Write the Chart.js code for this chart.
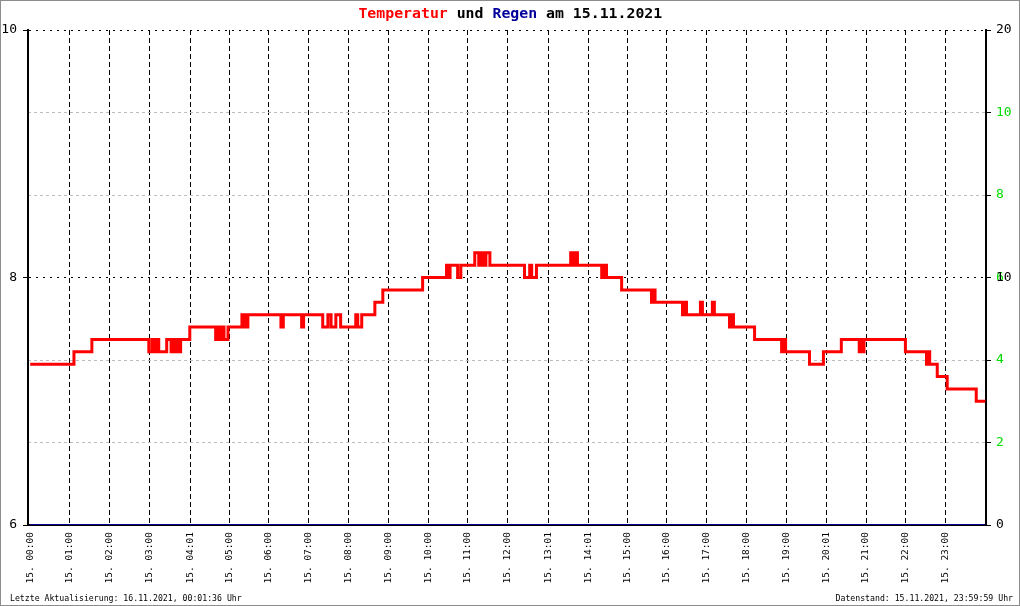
<!DOCTYPE html>
<html>
<head>
<meta charset="utf-8">
<title>Temperatur und Regen am 15.11.2021</title>
<script src="https://cdn.jsdelivr.net/npm/chart.js@4/dist/chart.umd.min.js"></script>
<style>
  html, body { margin: 0; padding: 0; background: #fff; }
  #wrap { position: relative; width: 1020px; height: 606px; overflow: hidden; }
  #frame { position: absolute; left: 0; top: 0; width: 1018px; height: 604px; border: 1px solid #8c8c8c; pointer-events: none; }
  #title { position: absolute; top: 6px; left: 0; width: 1020px; text-align: center; font: bold 14px/14px 'DejaVu Sans Mono', monospace; color: #000; }
  #title .inner { display: inline-block; transform: scaleX(1.06); white-space: pre; }
  .foot { position: absolute; top: 594px; font: 8.2px/8px 'DejaVu Sans Mono', monospace; color: #000; white-space: pre; }
</style>
</head>
<body>
<div id="wrap">
  <canvas id="chart" width="1020" height="606"></canvas>
  <div id="title"><span class="inner"><span style="color:#ff0000">Temperatur</span> und <span style="color:#00009c">Regen</span> am 15.11.2021</span></div>
  <div class="foot" style="left:10px">Letzte Aktualisierung: 16.11.2021, 00:01:36 Uhr</div>
  <div class="foot" style="right:7px">Datenstand: 15.11.2021, 23:59:59 Uhr</div>
  <div id="frame"></div>
</div>
<script>
// x axis ticks (hours of the day)
const tickTimes = [0, 1, 2, 3, 4.017, 5, 6, 7, 8, 9, 10, 11, 12, 13.017, 14.017, 15, 16, 17, 18, 19, 20.017, 21, 22, 23];
const tickLabels = ['15. 00:00', '15. 01:00', '15. 02:00', '15. 03:00', '15. 04:01', '15. 05:00',
    '15. 06:00', '15. 07:00', '15. 08:00', '15. 09:00', '15. 10:00', '15. 11:00',
    '15. 12:00', '15. 13:01', '15. 14:01', '15. 15:00', '15. 16:00', '15. 17:00',
    '15. 18:00', '15. 19:00', '15. 20:01', '15. 21:00', '15. 22:00', '15. 23:00'];

// temperature, change points (hour, degrees)
const times = [0.00, 1.10, 1.55, 2.98, 3.06, 3.11, 3.18, 3.23, 3.43, 3.54, 3.58, 3.64, 3.68, 3.74, 3.78,
    4.01, 4.66, 4.70, 4.77, 4.82, 4.87, 4.97, 5.32, 5.37, 5.41, 5.44, 5.47, 6.30, 6.36, 6.82, 6.87,
    7.35, 7.48, 7.56, 7.68, 7.80, 8.18, 8.23, 8.33, 8.66, 8.86, 9.86, 10.46, 10.51, 10.55, 10.74, 10.82,
    11.17, 11.27, 11.32, 11.39, 11.45, 11.55, 12.42, 12.55, 12.60, 12.72, 13.58, 13.63, 13.68, 13.75,
    14.36, 14.43, 14.48, 14.86, 15.61, 15.66, 15.70, 16.39, 16.44, 16.49, 16.84, 16.89, 17.14, 17.19,
    17.57, 17.62, 17.67, 18.20, 18.88, 18.93, 18.98, 19.58, 19.93, 20.38, 20.83, 20.87, 20.90, 20.95,
    21.99, 22.52, 22.56, 22.60, 22.79, 23.04, 23.77, 24.00];
const temps = [7.3, 7.4, 7.5, 7.4, 7.5, 7.4, 7.5, 7.4, 7.5, 7.4, 7.5, 7.4, 7.5, 7.4, 7.5,
    7.6, 7.5, 7.6, 7.5, 7.6, 7.5, 7.6, 7.7, 7.6, 7.7, 7.6, 7.7, 7.6, 7.7, 7.6, 7.7,
    7.6, 7.7, 7.6, 7.7, 7.6, 7.7, 7.6, 7.7, 7.8, 7.9, 8.0, 8.1, 8.0, 8.1, 8.0, 8.1,
    8.2, 8.1, 8.2, 8.1, 8.2, 8.1, 8.0, 8.1, 8.0, 8.1, 8.2, 8.1, 8.2, 8.1,
    8.0, 8.1, 8.0, 7.9, 7.8, 7.9, 7.8, 7.7, 7.8, 7.7, 7.8, 7.7, 7.8, 7.7,
    7.6, 7.7, 7.6, 7.5, 7.4, 7.5, 7.4, 7.3, 7.4, 7.5, 7.4, 7.5, 7.4, 7.5,
    7.4, 7.3, 7.4, 7.3, 7.2, 7.1, 7.0, 7.0];

// rain (mm)
const rainTimes = [0, 6, 12, 18, 24];
const rain = [0, 0, 0, 0, 0];

const mono = "'DejaVu Sans Mono', monospace";
const greenGrid = [2, 4, 8, 10];

// the green scale shares the place of the rain scale, so give it the same box after layout
const overlapAxis = {
    id: 'overlapAxis',
    afterLayout(chart) {
        const g = chart.scales.yG;
        g.width = 34;
        g.right = g.left + 34;
    }
};

const chartElement = document.getElementById('chart');

const chart = new Chart(chartElement, {
    type: 'line',
    data: {
        datasets: [
            {
                label: 'Temperatur',
                data: times.map((t, i) => ({ x: t, y: temps[i] })),
                yAxisID: 'y',
                borderColor: '#ff0000',
                borderWidth: 3,
                stepped: true,
                pointRadius: 0,
                fill: false,
            },
            {
                label: 'Regen',
                data: rainTimes.map((t, i) => ({ x: t, y: rain[i] })),
                yAxisID: 'yR',
                borderColor: '#00008c',
                borderWidth: 2,
                pointRadius: 0,
                fill: false,
            },
        ],
    },
    plugins: [overlapAxis],
    options: {
        responsive: false,
        animation: false,
        devicePixelRatio: 1,
        layout: { padding: { top: 30, left: 0, right: 0, bottom: 0 } },
        plugins: {
            legend: { display: false },
            title: { display: false },
            tooltip: { enabled: false },
        },
        scales: {
            x: {
                type: 'linear',
                min: -0.055,
                max: 24.015,
                afterBuildTicks: (s) => { s.ticks = tickTimes.map(v => ({ value: v })); },
                afterFit: (s) => { s.height = 81; },
                ticks: {
                    autoSkip: false,
                    minRotation: 90,
                    maxRotation: 90,
                    padding: 7,
                    color: '#000',
                    font: { family: mono, size: 9.5 },
                    callback: (v, i) => tickLabels[i],
                },
                grid: {
                    color: (c) => c.index === 0 ? 'rgba(0,0,0,0)' : '#000',
                    lineWidth: 1,
                    drawTicks: false,
                },
                border: { display: true, color: '#000', width: 2, dash: [5, 3] },
            },
            y: {
                position: 'left',
                min: 6,
                max: 10,
                afterFit: (s) => { s.width = 28; },
                ticks: { stepSize: 2, padding: 6, color: '#000', font: { family: mono, size: 13 } },
                grid: { color: '#000', lineWidth: 1, tickLength: 5 },
                border: { color: '#000', width: 2, dash: [2, 5] },
            },
            yG: {
                position: 'right',
                weight: 0,
                min: 0,
                max: 12,
                afterFit: (s) => { s.width = 0; },
                ticks: {
                    stepSize: 2,
                    padding: 5,
                    color: '#00dd00',
                    font: { family: mono, size: 13 },
                    callback: (v) => (v === 0 || v === 12) ? '' : String(v),
                },
                grid: {
                    color: (c) => greenGrid.includes(c.tick.value) ? '#bdbdbd' : 'rgba(0,0,0,0)',
                    tickColor: '#000',
                    tickLength: 5,
                },
                border: { display: false, dash: [3, 3] },
            },
            yR: {
                position: 'right',
                weight: 1,
                min: 0,
                max: 20,
                afterFit: (s) => { s.width = 34; },
                ticks: { stepSize: 10, padding: 5, color: '#000', font: { family: mono, size: 13 } },
                grid: { drawOnChartArea: false, color: '#000', tickLength: 5 },
                border: { color: '#000', width: 2 },
            },
        },
    },
});
</script>
</body>
</html>
